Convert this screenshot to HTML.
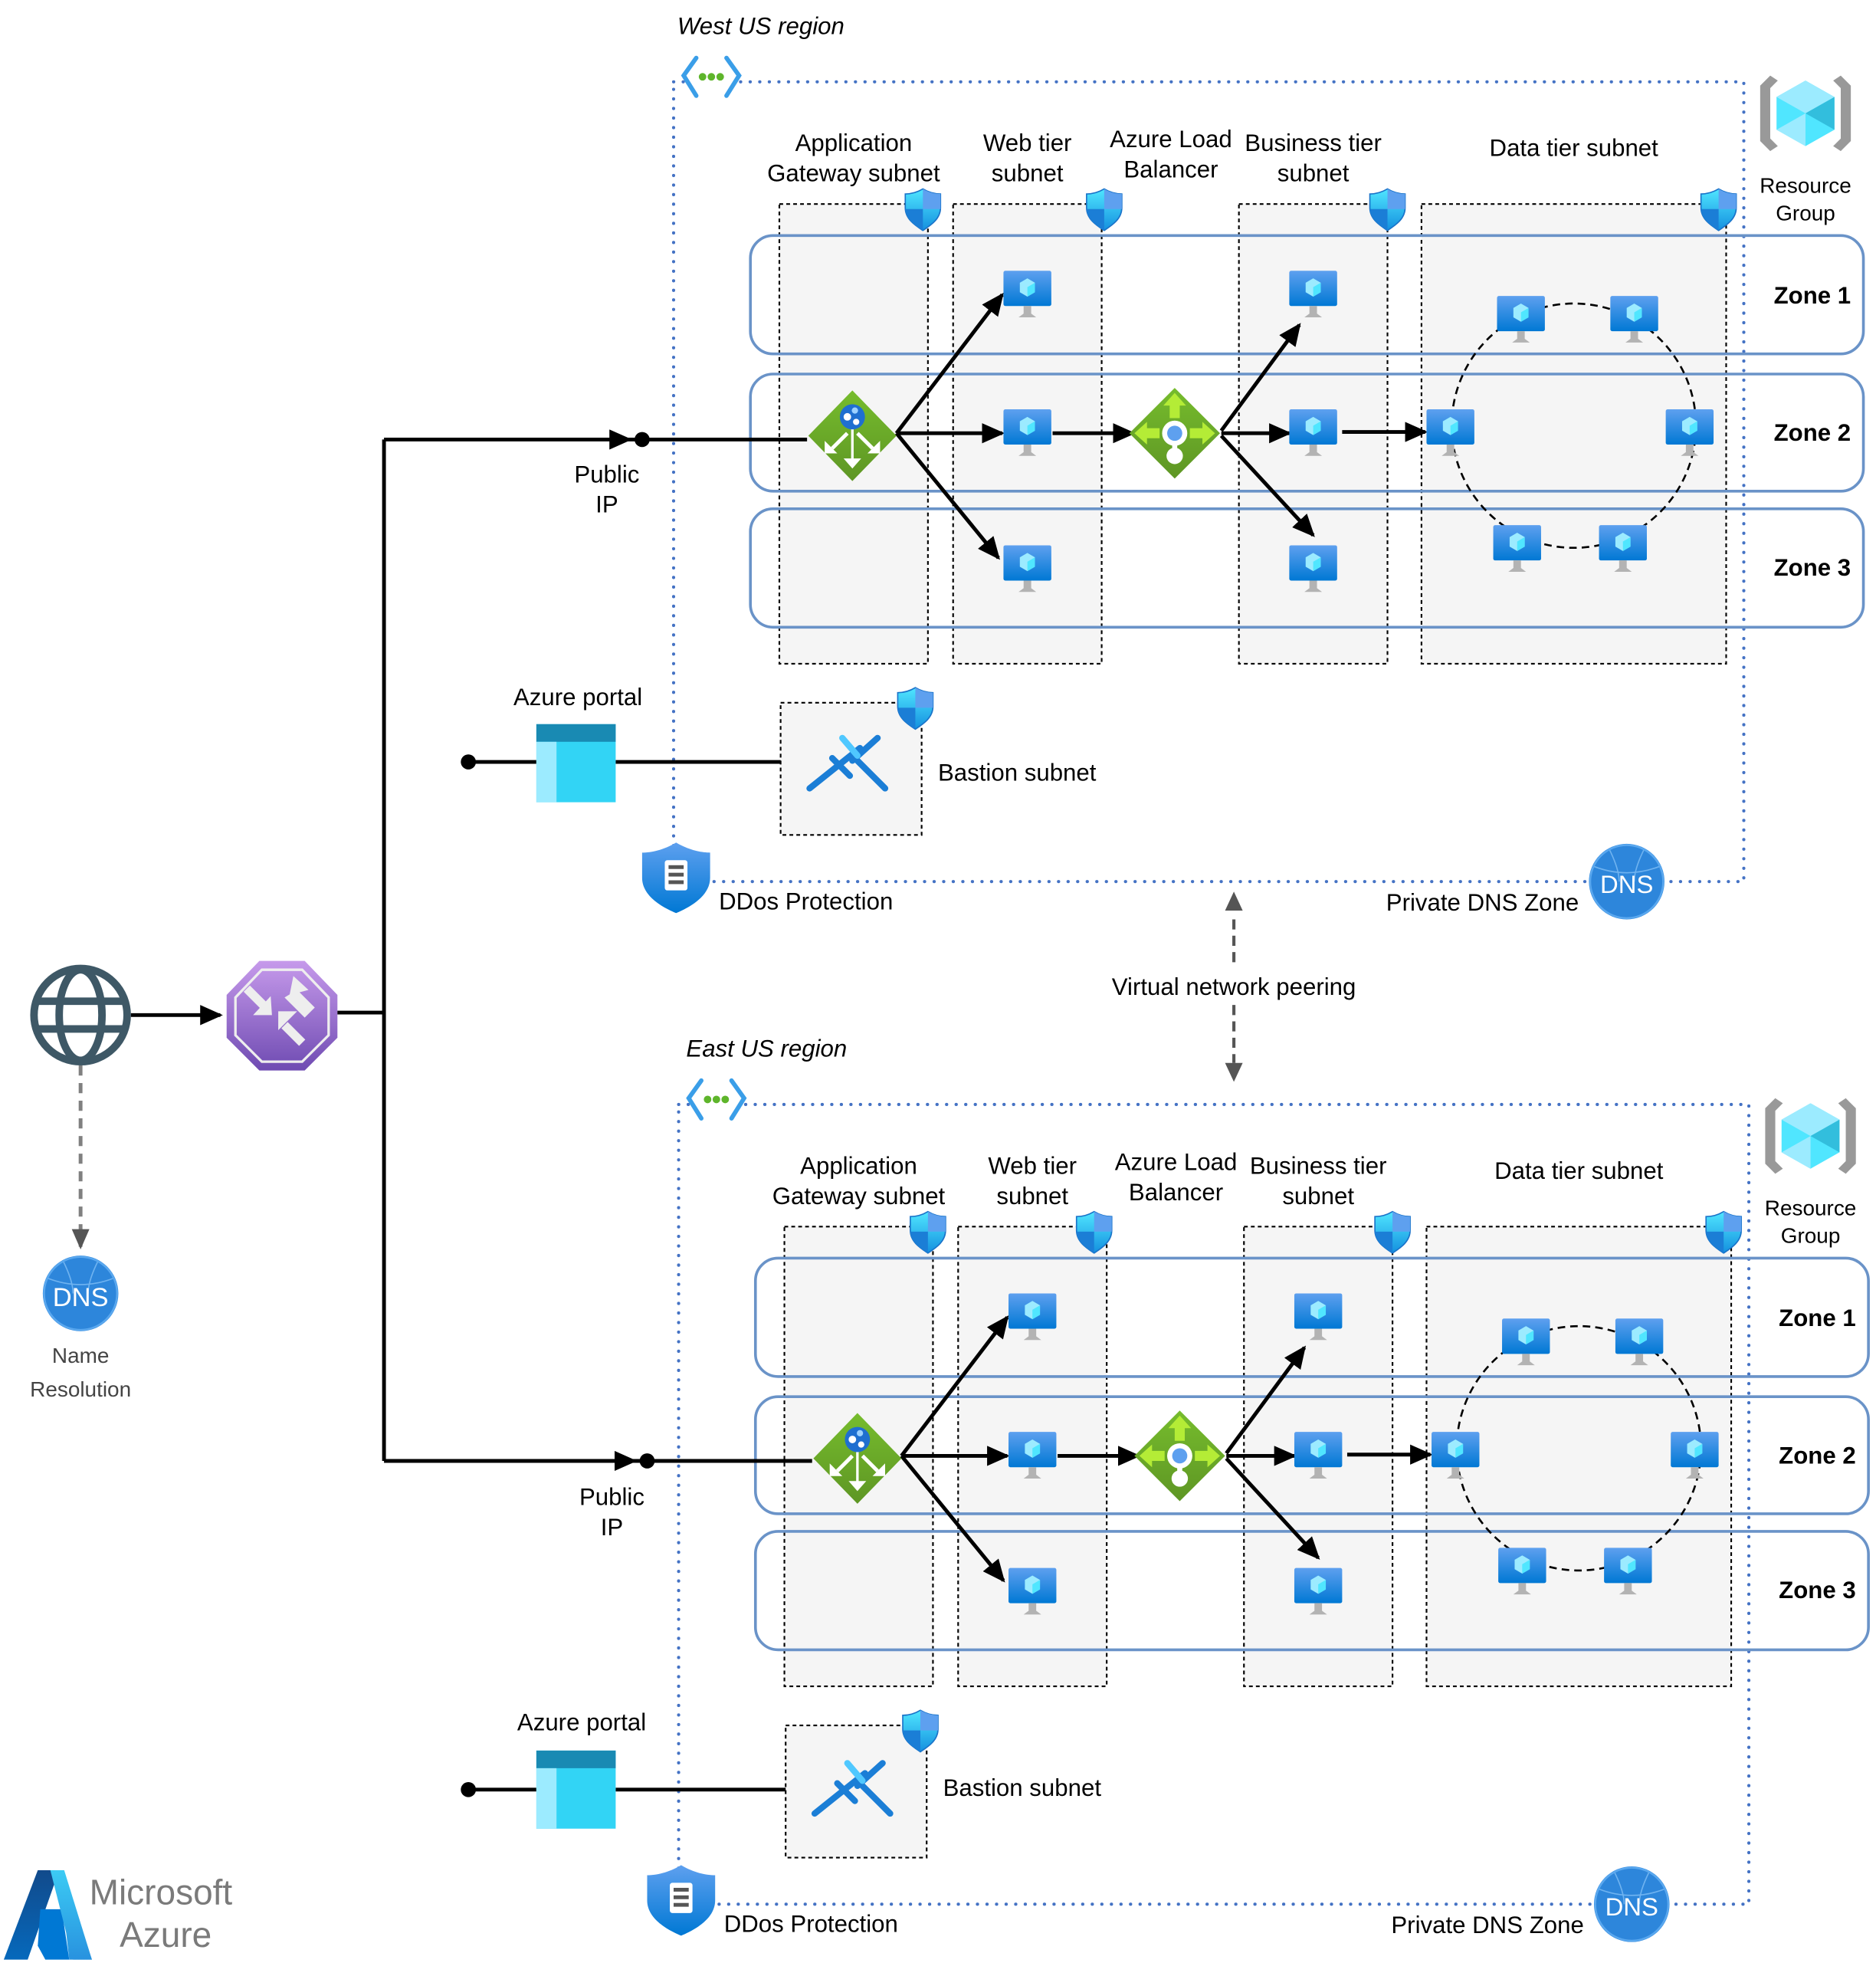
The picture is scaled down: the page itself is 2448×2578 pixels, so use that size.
<!DOCTYPE html>
<html><head><meta charset="utf-8">
<style>
html,body{margin:0;padding:0;background:#fff;}
svg{display:block;}
text{font-family:"Liberation Sans",sans-serif;fill:#000;}
</style></head><body>
<svg width="2448" height="2578" viewBox="0 0 1490 1569" preserveAspectRatio="none" xmlns="http://www.w3.org/2000/svg">
<defs>
<linearGradient id="gvm" x1="0" y1="0" x2="0" y2="1"><stop offset="0" stop-color="#5ea0ef"/><stop offset="1" stop-color="#0078d4"/></linearGradient>
<linearGradient id="ggr" x1="0" y1="0" x2="0" y2="1"><stop offset="0" stop-color="#76bc2d"/><stop offset="1" stop-color="#5e9624"/></linearGradient>
<linearGradient id="gfw" x1="0" y1="0" x2="0" y2="1"><stop offset="0" stop-color="#c69aeb"/><stop offset="1" stop-color="#6f4bb2"/></linearGradient>
<linearGradient id="gsh" x1="0" y1="0" x2="0" y2="1"><stop offset="0" stop-color="#50e6ff"/><stop offset="1" stop-color="#1490df"/></linearGradient>
<linearGradient id="gaz1" x1="0" y1="0" x2="0" y2="1"><stop offset="0" stop-color="#114a8b"/><stop offset="1" stop-color="#0669bc"/></linearGradient>
<linearGradient id="gaz2" x1="0" y1="0" x2="0" y2="1"><stop offset="0" stop-color="#3ccbf4"/><stop offset="1" stop-color="#2892df"/></linearGradient>
<marker id="ar" markerWidth="10" markerHeight="10" refX="9" refY="5" orient="auto" markerUnits="userSpaceOnUse" viewBox="0 0 10 10"><path d="M0,0 L10,5 L0,10z" fill="#000"/></marker>
<marker id="arb" markerWidth="18" markerHeight="16" refX="16" refY="8" orient="auto" markerUnits="userSpaceOnUse" viewBox="0 0 18 16"><path d="M0,0 L18,8 L0,16z" fill="#000"/></marker>
<marker id="arg" markerWidth="16" markerHeight="14" refX="14" refY="7" orient="auto" markerUnits="userSpaceOnUse" viewBox="0 0 16 14"><path d="M0,0 L16,7 L0,14z" fill="#555"/></marker>
<g id="vm">
<rect x="0" y="0" width="38" height="28" rx="1.5" fill="url(#gvm)"/>
<path d="M19,6 L25,9.5 L25,17 L19,20.5 L13,17 L13,9.5z" fill="#9cebff"/>
<path d="M19,13 L25,9.5 L25,17 L19,20.5z" fill="#50e6ff"/>
<path d="M16,28 L22,28 L22,34 L26,37 L12,37 L16,34z" fill="#b3b3b3"/>
</g>
<g id="shield">
<path d="M14,0 C9,3 4,4 0,4 L0,15 C0,24 8,29 14,33 C20,29 28,24 28,15 L28,4 C24,4 19,3 14,0z" fill="url(#gsh)" stroke="#1a73c9" stroke-width="1"/>
<path d="M14,0 L14,16 L28,16 L28,4 C24,4 19,3 14,0z" fill="#5ea0ef"/>
<path d="M0,16 L14,16 L14,33 C8,29 0,24 0,15z" fill="#1b7ed6"/>
</g>
<g id="agw">
<path d="M0,-36 L35,0 L0,36 L-35,0z" fill="url(#ggr)"/>
<path d="M-1,-6 L-1,18 L-7,18 L0,26 L7,18 L1,18 L1,-6z" fill="#fff"/>
<path d="M-4,-2 L-16,10 M4,-2 L16,10" stroke="#fff" stroke-width="3"/>
<path d="M-22,4 L-22,14 L-12,14z M22,4 L22,14 L12,14z" fill="#fff"/>
<circle cx="0" cy="-15" r="10" fill="#1f6fd0"/>
<circle cx="-4" cy="-15" r="3" fill="#fff"/><circle cx="3" cy="-11" r="2.5" fill="#fff"/><circle cx="2" cy="-20" r="2.5" fill="#9cd0ff"/>
</g>
<g id="lb">
<path d="M0,-36 L36,0 L0,36 L-36,0z" fill="url(#ggr)"/>
<path d="M-4,-12 L-4,-22 L-9,-22 L0,-32 L9,-22 L4,-22 L4,-12z" fill="#b4ec36"/>
<path d="M-12,-4 L-22,-4 L-22,-9 L-32,0 L-22,9 L-22,4 L-12,4z M12,-4 L22,-4 L22,-9 L32,0 L22,9 L22,4 L12,4z" fill="#b4ec36"/>
<circle cx="0" cy="0" r="10" fill="#fff"/><circle cx="0" cy="0" r="6" fill="#5ea0ef"/>
<rect x="-2" y="8" width="4" height="8" fill="#fff"/><circle cx="0" cy="18" r="6.5" fill="#fff"/>
</g>
<g id="dns">
<circle cx="0" cy="0" r="30" fill="#2d86db"/>
<path d="M-26,-12 Q0,-2 26,-12 M-14,-26 Q-6,-10 -6,0 M14,-26 Q6,-10 6,0" stroke="#6fb3f0" stroke-width="1" fill="none"/>
<circle cx="0" cy="0" r="29" fill="none" stroke="#5aa8ef" stroke-width="1.5"/>
</g>
<g id="vnet">
<path d="M-12,-18 L-22,-4 L-12,12 M12,-18 L22,-4 L12,12" stroke="#3a9ee8" stroke-width="3.5" fill="none" stroke-linecap="round"/>
<circle cx="-7" cy="-3" r="3" fill="#5eb52b"/><circle cx="0" cy="-3" r="3" fill="#5eb52b"/><circle cx="7" cy="-3" r="3" fill="#5eb52b"/>
</g>
<g id="rg">
<path d="M-28,-30 L-36,-22 L-36,22 L-28,30 L-22,26 L-28,20 L-28,-20 L-22,-26z" fill="#999"/>
<path d="M28,-30 L36,-22 L36,22 L28,30 L22,26 L28,20 L28,-20 L22,-26z" fill="#999"/>
<path d="M0,-26 L23,-13 L23,13 L0,26 L-23,13 L-23,-13z" fill="#50e6ff"/>
<path d="M0,-26 L23,-13 L0,0 L-23,-13z" fill="#9cebff"/>
<path d="M0,0 L23,-13 L23,13z" fill="#32bedd"/>
<path d="M0,0 L0,26 L-23,13z" fill="#9cebff"/>
</g>
<g id="portal">
<rect x="0" y="0" width="63" height="62" fill="#32d4f5"/>
<rect x="0" y="0" width="63" height="14" fill="#198ab3"/>
<rect x="0" y="14" width="16" height="48" fill="#9cebff"/>
</g>
<g id="bast">
<path d="M-30,18 L10,-14" stroke="#1b7ed6" stroke-width="5" stroke-linecap="round"/>
<path d="M-12,-6 L2,8 M4,-4 L24,-22 M8,-4 L30,18" stroke="#1b7ed6" stroke-width="5" stroke-linecap="round"/>
<path d="M-4,-22 L8,-8" stroke="#50c8ff" stroke-width="5" stroke-linecap="round"/>
</g>
<g id="ddos">
<path d="M0,-28 C-10,-22 -20,-20 -27,-20 L-27,0 C-27,14 -12,23 0,28 C12,23 27,14 27,0 L27,-20 C20,-20 10,-22 0,-28z" fill="url(#gvm)"/>
<rect x="-9" y="-14" width="18" height="24" rx="2" fill="#fff"/>
<rect x="-6" y="-10" width="12" height="3" fill="#555"/><rect x="-6" y="-4" width="12" height="3" fill="#555"/><rect x="-6" y="2" width="12" height="3" fill="#555"/>
</g>
</defs>

<!-- Left side -->
<g stroke="#3e5866" stroke-width="6" fill="none">
<circle cx="64" cy="806" r="37"/>
<ellipse cx="64" cy="806" rx="17" ry="36"/>
<line x1="28" y1="795" x2="100" y2="795"/><line x1="28" y1="817" x2="100" y2="817"/>
</g>
<line x1="104" y1="806" x2="175" y2="806" stroke="#000" stroke-width="3" marker-end="url(#arb)"/>
<path d="M206,763 L242,763 L268,790 L268,824 L242,850 L206,850 L180,824 L180,790z" fill="url(#gfw)"/>
<path d="M208,770 L240,770 L261,792 L261,822 L240,843 L208,843 L187,822 L187,792z" fill="none" stroke="#eee" stroke-width="2"/>
<path d="M196,785 L210,799 M226,814 L240,828" stroke="#eee" stroke-width="7"/>
<path d="M215,791 L216,806 L201,806z M221,803 L236,803 L221,818z" fill="#eee"/>
<path d="M236,786 L250,800 L242,808 L226,792z" fill="#eee"/>
<path d="M230,790 L233,775 L245,786z" fill="#eee"/>
<polyline points="268,804 305,804" fill="none" stroke="#000" stroke-width="3"/>
<line x1="305" y1="349" x2="305" y2="1160" stroke="#000" stroke-width="3"/>
<line x1="64" y1="846" x2="64" y2="990" stroke="#808080" stroke-width="3" stroke-dasharray="8,6" marker-end="url(#arg)"/>
<use href="#dns" x="64" y="1027"/>
<text x="64" y="1037" font-size="21" text-anchor="middle" style="fill:#fff">DNS</text>
<text x="64" y="1082" font-size="17" text-anchor="middle" style="fill:#444">Name</text>
<text x="64" y="1109" font-size="17" text-anchor="middle" style="fill:#444">Resolution</text>

<!-- Peering -->
<line x1="980" y1="730" x2="980" y2="764" stroke="#555" stroke-width="2.5" stroke-dasharray="8,5"/>
<path d="M973,723 L980,708 L987,723z" fill="#555"/>
<line x1="980" y1="798" x2="980" y2="844" stroke="#555" stroke-width="2.5" stroke-dasharray="8,5"/>
<path d="M973,844 L980,859 L987,844z" fill="#555"/>
<text x="980" y="790" font-size="19" text-anchor="middle">Virtual network peering</text>

<!-- Azure logo -->
<path d="M30,1485 L47,1485 L22,1556 L3,1556z" fill="url(#gaz1)"/>
<path d="M47,1485 L49,1485 L73,1556 L55,1556z" fill="url(#gaz2)"/>
<path d="M32,1516 L49,1516 L55,1556 L36,1556 L30,1545z" fill="#0078d4"/>
<path d="M40,1485 L51,1485 L73,1556 L58,1556z" fill="url(#gaz2)"/>
<text x="71" y="1512" font-size="28" style="fill:#7a7a7a">Microsoft</text>
<text x="95" y="1546" font-size="28" style="fill:#7a7a7a">Azure</text>

<!-- WEST REGION -->
<g>
<text x="538" y="27" font-size="19" font-style="italic">West US region</text>
<rect x="535" y="65" width="850" height="635" fill="none" stroke="#4472c4" stroke-width="2.5" stroke-dasharray="0.1,7.5" stroke-linecap="round"/>
<rect x="546" y="50" width="38" height="30" fill="#fff"/>
<use href="#vnet" x="565" y="64"/>
<g fill="#f5f5f5" stroke="#000" stroke-width="1.3" stroke-dasharray="3,2.5">
<rect x="619" y="162" width="118" height="365"/>
<rect x="757" y="162" width="118" height="365"/>
<rect x="984" y="162" width="118" height="365"/>
<rect x="1129" y="162" width="242" height="365"/>
<rect x="620" y="558" width="112" height="105"/>
</g>
<use href="#shield" x="719" y="150"/><use href="#shield" x="863" y="150"/><use href="#shield" x="1088" y="150"/><use href="#shield" x="1351" y="150"/><use href="#shield" x="713" y="546"/>
<g fill="none" stroke="#6a93c8" stroke-width="2.2">
<rect x="596" y="187" width="884" height="94" rx="18"/>
<rect x="596" y="297" width="884" height="93" rx="18"/>
<rect x="596" y="404" width="884" height="94" rx="18"/>
</g>
<g font-size="19" font-weight="bold" text-anchor="end">
<text x="1470" y="241">Zone 1</text><text x="1470" y="350">Zone 2</text><text x="1470" y="457">Zone 3</text>
</g>
<g font-size="19" text-anchor="middle">
<text x="678" y="120">Application</text><text x="678" y="144">Gateway subnet</text>
<text x="816" y="120">Web tier</text><text x="816" y="144">subnet</text>
<text x="930" y="117">Azure Load</text><text x="930" y="141">Balancer</text>
<text x="1043" y="120">Business tier</text><text x="1043" y="144">subnet</text>
<text x="1250" y="124">Data tier subnet</text>
</g>
<use href="#rg" x="1434" y="90"/>
<text x="1434" y="153" font-size="17" text-anchor="middle">Resource</text>
<text x="1434" y="175" font-size="17" text-anchor="middle">Group</text>
<ellipse cx="1250" cy="338" rx="97" ry="97" fill="none" stroke="#000" stroke-width="1.6" stroke-dasharray="6,4"/>
<g stroke="#000" stroke-width="3" fill="none">
<line x1="500" y1="349" x2="641" y2="349"/>
<line x1="305" y1="349" x2="500" y2="349" marker-end="url(#arb)"/>
<line x1="712" y1="344" x2="796" y2="234" marker-end="url(#arb)"/>
<line x1="712" y1="344" x2="796" y2="344" marker-end="url(#arb)"/>
<line x1="712" y1="344" x2="793" y2="443" marker-end="url(#arb)"/>
<line x1="836" y1="344" x2="900" y2="344" marker-end="url(#arb)"/>
<line x1="970" y1="342" x2="1032" y2="258" marker-end="url(#arb)"/>
<line x1="970" y1="344" x2="1024" y2="344" marker-end="url(#arb)"/>
<line x1="970" y1="346" x2="1043" y2="425" marker-end="url(#arb)"/>
<line x1="1066" y1="343" x2="1132" y2="343" marker-end="url(#arb)"/>
<line x1="372" y1="605" x2="426" y2="605"/>
<line x1="489" y1="605" x2="620" y2="605"/>
</g>
<circle cx="510" cy="349" r="6" fill="#000"/>
<circle cx="372" cy="605" r="6" fill="#000"/>
<use href="#agw" x="677" y="346"/>
<use href="#lb" x="933" y="344"/>
<use href="#vm" x="797" y="215"/><use href="#vm" x="797" y="325"/><use href="#vm" x="797" y="433"/>
<use href="#vm" x="1024" y="215"/><use href="#vm" x="1024" y="325"/><use href="#vm" x="1024" y="433"/>
<use href="#vm" x="1189" y="235"/><use href="#vm" x="1279" y="235"/><use href="#vm" x="1133" y="325"/><use href="#vm" x="1323" y="325"/><use href="#vm" x="1186" y="417"/><use href="#vm" x="1270" y="417"/>
<text x="482" y="383" font-size="19" text-anchor="middle">Public</text>
<text x="482" y="407" font-size="19" text-anchor="middle">IP</text>
<text x="459" y="560" font-size="19" text-anchor="middle">Azure portal</text>
<use href="#portal" x="426" y="575"/>
<use href="#bast" x="673" y="608"/>
<text x="745" y="620" font-size="19">Bastion subnet</text>
<use href="#ddos" x="537" y="697"/>
<text x="571" y="722" font-size="19">DDos Protection</text>
<use href="#dns" x="1292" y="700"/>
<text x="1292" y="709" font-size="20" text-anchor="middle" style="fill:#fff">DNS</text>
<text x="1254" y="723" font-size="19" text-anchor="end">Private DNS Zone</text>
</g>

<!-- EAST REGION -->
<g transform="translate(4,812)">
<text x="541" y="27" font-size="19" font-style="italic">East US region</text>
<rect x="535" y="65" width="850" height="635" fill="none" stroke="#4472c4" stroke-width="2.5" stroke-dasharray="0.1,7.5" stroke-linecap="round"/>
<rect x="546" y="50" width="38" height="30" fill="#fff"/>
<use href="#vnet" x="565" y="64"/>
<g fill="#f5f5f5" stroke="#000" stroke-width="1.3" stroke-dasharray="3,2.5">
<rect x="619" y="162" width="118" height="365"/>
<rect x="757" y="162" width="118" height="365"/>
<rect x="984" y="162" width="118" height="365"/>
<rect x="1129" y="162" width="242" height="365"/>
<rect x="620" y="558" width="112" height="105"/>
</g>
<use href="#shield" x="719" y="150"/><use href="#shield" x="851" y="150"/><use href="#shield" x="1088" y="150"/><use href="#shield" x="1351" y="150"/><use href="#shield" x="713" y="546"/>
<g fill="none" stroke="#6a93c8" stroke-width="2.2">
<rect x="596" y="187" width="884" height="94" rx="18"/>
<rect x="596" y="297" width="884" height="93" rx="18"/>
<rect x="596" y="404" width="884" height="94" rx="18"/>
</g>
<g font-size="19" font-weight="bold" text-anchor="end">
<text x="1470" y="241">Zone 1</text><text x="1470" y="350">Zone 2</text><text x="1470" y="457">Zone 3</text>
</g>
<g font-size="19" text-anchor="middle">
<text x="678" y="120">Application</text><text x="678" y="144">Gateway subnet</text>
<text x="816" y="120">Web tier</text><text x="816" y="144">subnet</text>
<text x="930" y="117">Azure Load</text><text x="930" y="141">Balancer</text>
<text x="1043" y="120">Business tier</text><text x="1043" y="144">subnet</text>
<text x="1250" y="124">Data tier subnet</text>
</g>
<use href="#rg" x="1434" y="90"/>
<text x="1434" y="153" font-size="17" text-anchor="middle">Resource</text>
<text x="1434" y="175" font-size="17" text-anchor="middle">Group</text>
<ellipse cx="1250" cy="338" rx="97" ry="97" fill="none" stroke="#000" stroke-width="1.6" stroke-dasharray="6,4"/>
<g stroke="#000" stroke-width="3" fill="none">
<line x1="500" y1="348" x2="641" y2="348"/>
<line x1="301" y1="348" x2="500" y2="348" marker-end="url(#arb)"/>
<line x1="712" y1="344" x2="796" y2="234" marker-end="url(#arb)"/>
<line x1="712" y1="344" x2="796" y2="344" marker-end="url(#arb)"/>
<line x1="712" y1="344" x2="793" y2="443" marker-end="url(#arb)"/>
<line x1="836" y1="344" x2="900" y2="344" marker-end="url(#arb)"/>
<line x1="970" y1="342" x2="1032" y2="258" marker-end="url(#arb)"/>
<line x1="970" y1="344" x2="1024" y2="344" marker-end="url(#arb)"/>
<line x1="970" y1="346" x2="1043" y2="425" marker-end="url(#arb)"/>
<line x1="1066" y1="343" x2="1132" y2="343" marker-end="url(#arb)"/>
<line x1="368" y1="609" x2="422" y2="609"/>
<line x1="485" y1="609" x2="620" y2="609"/>
</g>
<circle cx="510" cy="348" r="6" fill="#000"/>
<circle cx="368" cy="609" r="6" fill="#000"/>
<use href="#agw" x="677" y="346"/>
<use href="#lb" x="933" y="344"/>
<use href="#vm" x="797" y="215"/><use href="#vm" x="797" y="325"/><use href="#vm" x="797" y="433"/>
<use href="#vm" x="1024" y="215"/><use href="#vm" x="1024" y="325"/><use href="#vm" x="1024" y="433"/>
<use href="#vm" x="1189" y="235"/><use href="#vm" x="1279" y="235"/><use href="#vm" x="1133" y="325"/><use href="#vm" x="1323" y="325"/><use href="#vm" x="1186" y="417"/><use href="#vm" x="1270" y="417"/>
<text x="482" y="383" font-size="19" text-anchor="middle">Public</text>
<text x="482" y="407" font-size="19" text-anchor="middle">IP</text>
<text x="458" y="562" font-size="19" text-anchor="middle">Azure portal</text>
<use href="#portal" x="422" y="578"/>
<use href="#bast" x="673" y="610"/>
<text x="745" y="614" font-size="19">Bastion subnet</text>
<use href="#ddos" x="537" y="697"/>
<text x="571" y="722" font-size="19">DDos Protection</text>
<use href="#dns" x="1292" y="700"/>
<text x="1292" y="709" font-size="20" text-anchor="middle" style="fill:#fff">DNS</text>
<text x="1254" y="723" font-size="19" text-anchor="end">Private DNS Zone</text>
</g>
</svg>
</body></html>
